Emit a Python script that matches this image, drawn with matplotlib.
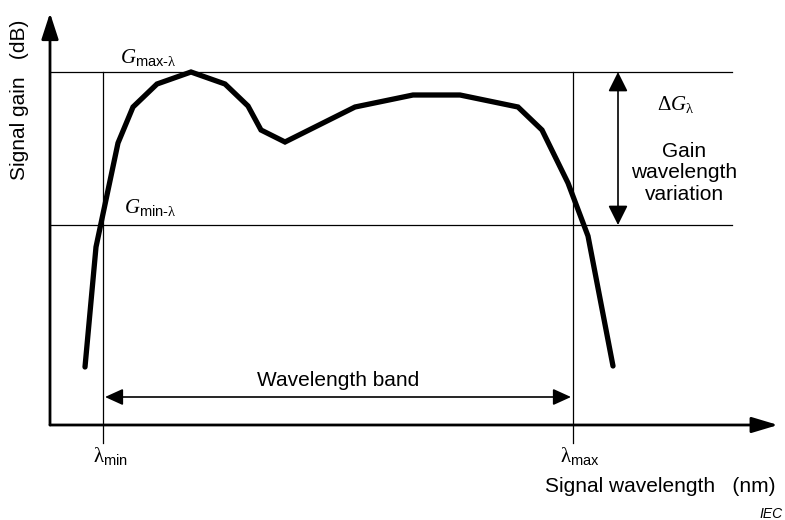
import numpy as np
import matplotlib.pyplot as plt

plt.rcParams['font.family'] = ['Liberation Sans', 'DejaVu Sans']
plt.rcParams['mathtext.fontset'] = 'custom'
plt.rcParams['mathtext.rm'] = 'Liberation Serif'
plt.rcParams['mathtext.it'] = 'Liberation Serif:italic'
plt.rcParams['mathtext.sf'] = 'Liberation Sans'

# gain curve (schematic units: wavelength, gain)
wavelength = [35, 46, 68, 83, 107, 141, 175, 198, 211, 235, 305, 363, 410, 468, 492, 518, 538, 563]
gain = [58, 178, 282, 318, 341, 353, 341, 319, 295, 283, 318, 330, 330, 318, 295, 242, 189, 59]

g_max = 353
g_min = 200
lam_min = 53
lam_max = 523
level_end = 682
dg_x = 568
band_y = 28

fig = plt.figure(figsize=(7.85, 5.2), dpi=100)
ax = fig.add_axes([0, 0, 1, 1])
ax.set_xlim(-50, 735)
ax.set_ylim(-95, 425)
ax.axis('off')

# axes with arrows
ax.annotate('', xy=(0, 412), xytext=(0, 0),
            arrowprops=dict(arrowstyle='-|>,head_length=0.8,head_width=0.26', mutation_scale=20,
                            lw=2.0, color='black', shrinkA=0, shrinkB=0))
ax.annotate('', xy=(728, 0), xytext=(0, 0),
            arrowprops=dict(arrowstyle='-|>,head_length=0.8,head_width=0.24', mutation_scale=20,
                            lw=2.0, color='black', shrinkA=0, shrinkB=0))

# level lines and band limits
ax.plot([0, level_end], [g_max, g_max], color='black', lw=0.9)
ax.plot([0, level_end], [g_min, g_min], color='black', lw=0.9)
ax.plot([lam_min, lam_min], [g_max, -18], color='black', lw=0.9)
ax.plot([lam_max, lam_max], [g_max, -18], color='black', lw=0.9)

# gain curve
ax.plot(wavelength, gain, color='black', lw=3.8, solid_joinstyle='miter', solid_capstyle='round')

# delta G arrow
ax.annotate('', xy=(dg_x, g_max), xytext=(dg_x, g_min),
            arrowprops=dict(arrowstyle='<|-|>,head_length=0.6,head_width=0.3', mutation_scale=20,
                            lw=1.2, color='black', shrinkA=0, shrinkB=0))
# band arrow
ax.annotate('', xy=(lam_min + 2, band_y), xytext=(lam_max - 2, band_y),
            arrowprops=dict(arrowstyle='<|-|>,head_length=0.55,head_width=0.25', mutation_scale=20,
                            lw=1.2, color='black', shrinkA=0, shrinkB=0))

fs = 15
ax.text(70, 362, r'$G_{\mathsf{max}\mathsf{‐}\mathrm{\lambda}}$', fontsize=fs, va='baseline')
ax.text(74, 212, r'$G_{\mathsf{min}\mathsf{‐}\mathrm{\lambda}}$', fontsize=fs, va='baseline')
ax.text(43, -37, r'$\mathrm{\lambda}_{\mathsf{min}}$', fontsize=fs, va='baseline')
ax.text(510, -37, r'$\mathrm{\lambda}_{\mathsf{max}}$', fontsize=fs, va='baseline')
ax.text(607, 315, r'$\Delta G_{\mathrm{\lambda}}$', fontsize=fs, va='baseline')
ax.text(634, 252, 'Gain\nwavelength\nvariation', fontsize=fs, ha='center', va='center',
        linespacing=1.15)
ax.text(288, 44, 'Wavelength band', fontsize=fs, ha='center', va='center')
ax.text(495, -67, 'Signal wavelength   (nm)', fontsize=fs, va='baseline')
ax.text(-30, 325, 'Signal gain   (dB)', fontsize=fs, rotation=90, ha='center', va='center')
ax.text(733, -93, 'IEC', fontsize=10, style='italic', ha='right', va='baseline')

fig.savefig('out.png', dpi=100)
